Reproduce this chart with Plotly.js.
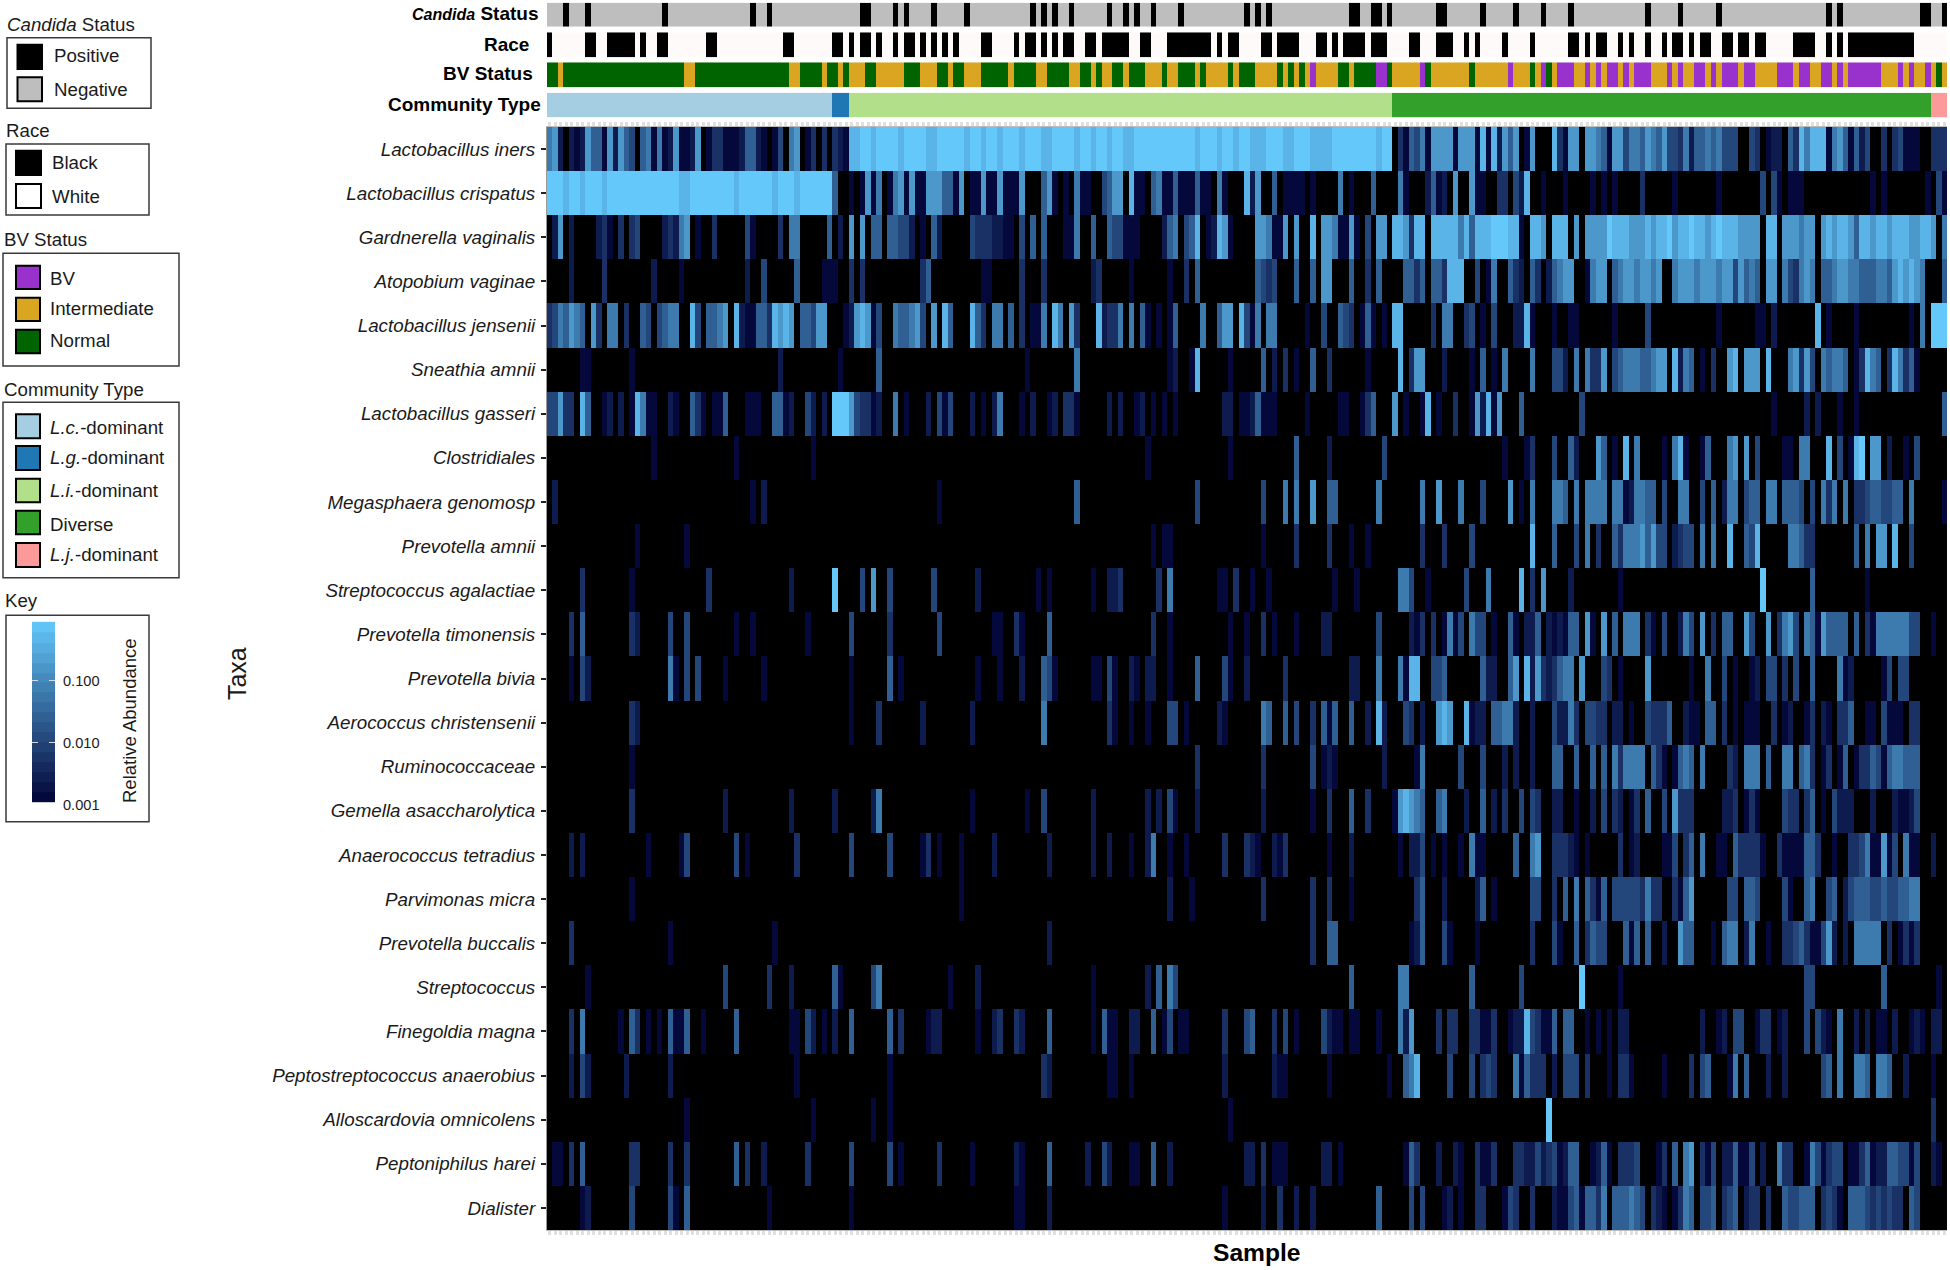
<!DOCTYPE html>
<html>
<head>
<meta charset="utf-8">
<script src="https://cdn.plot.ly/plotly-3.0.1.min.js"></script>
<style>html,body{margin:0;padding:0;background:#fff}</style>
</head>
<body>
<div id="chart" style="width:1950px;height:1270px"></div>
<script>
// ---------- DATA ----------
const sampleCount = 255;
const taxa = ["Lactobacillus iners","Lactobacillus crispatus","Gardnerella vaginalis","Atopobium vaginae","Lactobacillus jensenii","Sneathia amnii","Lactobacillus gasseri","Clostridiales","Megasphaera genomosp","Prevotella amnii","Streptococcus agalactiae","Prevotella timonensis","Prevotella bivia","Aerococcus christensenii","Ruminococcaceae","Gemella asaccharolytica","Anaerococcus tetradius","Parvimonas micra","Prevotella buccalis","Streptococcus","Finegoldia magna","Peptostreptococcus anaerobius","Alloscardovia omnicolens","Peptoniphilus harei","Dialister"];

// relative abundance read for each shade seen in the picture (index = shade number, 0 = absent)
const abundanceByShade = [0,0.0013,0.0025,0.0053,0.011,0.026,0.063,0.17,0.44,0.87];

// each entry: [first sample index, shade, shade, ...] for consecutive samples
const lIners = [[0,6,7,2,0,2,1,2,7,5,5,1,7,2,7,5,4,0,5,6,1,6,1,2,7,1,1,2,7,0,1,3,3,1,1,1,2,5,5,2,1,0,1,4,0,6,7,0,1,3,0,3,0,3,2,1],
 [55,8,8,9,9,8,9,9,9,9,8, 9,9,9,9,8,8,9,9,9,9, 9,8,9,9,8,9,9,8,9,9, 9,8,9,9,9,8,8,9,9,9, 9,8,9,9,8,9,9,8,9,9, 8,8,9,9,9,9,9,9,9,9, 9,9,9,8,9,9,9,8,9,9, 8,9,9,8,8,8,9,9,9,8, 8,9,9,9,8,8,8,8,9,9, 9,9,9,9,9,9,8,9,9],
 [154,0,3,1,5,4,6,1,7,7,7,7,1,7,7,7,1,8,1,8,2,7,5,7,0,1,7,0,0,0,8,3,1,7,7,0,7,7,6,5,1,7,7,4,6,6,5,7,6,5,7,4,4,3,6,2,5,5,6,5,6,4,4,4,0,0,4,3,0,1,2,2,0,5,3,8,6,8,8,8,1,6,7,5,1,5,2,4,0,0,3,0,3,4,1,1,1,0,0,3,3,3]];
const lCrispatus = [[0,9,9,9,8,9,9,8,9,9,9,8,9,9,9,9,9,9,9,9,9,9,9,9,9,8,8,9,9,9,9,9,9,9,9,8,9,9,9,9,9,9,8,9,9,9,8,9,9,9,9,9,9],
 [52,5,0,0,1,0,1,7,1,6,0,1,6,7,1,7,1,1,7,7,7,5,5,1,7,0,1,1,7,1,1,7,1,1,1],
 [86,7,0,0,0,5,7,1,0,1,0,6,1,1,0,0,4,5,7,7,0,8,1,1,0,5,6,1,1,5,1,1,1,5,1,1,0,6,1,0,0,0,8,2,7,0,0,5,0,1,1,1,1,0,1,0,0,0,0,6,0,1,0,0,0,5,0,0,0,0,6,1,0,0,0,2,5,1,2,0,7,0,0,7,1,1],
 [171,0,0,3,3,0,4,2,8],[181,1],[185,1],[190,1],[192,1],[194,1],[199,3],[205,1],[213,1],[221,4],[223,4,1],[226,1,1,1],[241,1],[243,1],[251,1],[253,4,1]];
const gVaginalis = [[0,0,2,7,0,2,0,0,0,0,2,3,1,0,3,0,3,4,0,0,0,0,2,3,2,6,7,0,1,0,0,3,0,0,0,0,0,4,1,0,0,0,0,3,0,6,6,0,0,0,0,0,5,0,2,0,7,0,7,0,5,5,0,5,5,4,4,2,0,1,0,5,2,0,0,0,0,0,4,3,3,3,2,2,1,1,0],
 [86,4,0,5,0,5,0,0,0,1,1,6,0,0,5,0,0,5,4,4,1,1,1,0,0,0,0,2,5,6,0,4,5,8,0,1,2,8,7,1,0,0,0,0,7,7,6,1,1,7,0,7,0,0,8,0,7,7,6,1,1,7,1,0,4,0,7,7,0,8,8,7,3,8,8,0,8,8,8,8,8,6,8],
 [168,5,8,8,8,9,9,9,8,8,1,0,8,8,7,0,8,8,8,0,7,0,7,7,7,7,9,8,8,8,7,7,7,8,7,8,8,9,7,8,8,9,8,8,7,8,9,8,8,8,7,7,7,7,0,8,8,0,7,7,7,6,7,7,0,7,8,7,8,8,7,5,8,8,7,8,8,7,8,8,8,7,7,8,8,7,0,6]];
const aVaginae = [[4,2],[10,3],[19,2],[24,1],[36,2],[39,4],[45,5],[50,1,1,1],[55,3],[57,3],[68,3,5],[79,1,1],[86,3],[90,3],[99,2,3],[106,1],[113,1],[116,3],[118,5],[129,5,4,3,4],[136,5],[139,5],[141,7,7],[146,5],[149,3],[151,5],[156,5,5,3,5],[161,5,5,3],[164,8,8,8],[169,4],[171,1,6],[175,5,3,2],[179,5,3],[182,2,5,6,7,7],[189,1,6,7,7],[194,5,6,7,7,6,7,7,6,7],[205,6,7,7,7,6,7,7,7,6,7,7,4,7,5,6,5],[222,7,7],[225,6,4,3,6,7,6],[232,5,5,6,7,7],[237,6,6,5,5,5,6,6,5],[245,7,8,7,8,7,6],[254,5]];
const lJensenii = [[0,3,4,6,5,7,6,5,0,7,3,0,6,6,0,3,0,0,5,4,0,4,5,6,6,0,0,8,4,0,5,5,6,7,0,8,2,1,1,5,5,3,8,7,8,7,0,5,5,4,7,7,0,0,0,1,2,7,8,7,1,4,0,0,6,5,5,6,7,4,0,7,0,8,5,0,0,0,8,5,3,0,6,6,0,5],
 [86,3],[88,1,1,6],[92,8,6],[95,7,3],[100,8,2,3,3,6],[106,6],[108,5,1],[111,1],[113,1,5],[119,6],[122,5,7,7],[126,8,4,1,6],[131,6,6],[138,1],[141,4],[144,5,4,3],[148,1,5,1],[152,1],[154,8,8],[161,3],[163,6,6],[167,3,4],[170,1],[172,4],[176,2,2],[178,8,1],[183,1],[186,1,1],[194,1],[200,4],[213,1],[220,1,1],[223,2],[231,8],[233,1],[238,1],[248,1],[250,6],[252,9,9,9]];
const sAmnii = [[6,1,1],[15,1],[42,2],[53,1],[60,5],[87,1],[96,6],[113,1,2],[117,1,8],[124,1],[130,5],[132,2],[134,3],[136,1],[139,5],[142,3],[149,1],[155,8],[157,3,7,7],[163,2],[168,1],[170,5],[172,1],[174,6],[179,6],[183,4,4,2],[187,6],[189,6,3,3,7],[194,4,5,6,6,6,5,5,6,7,7],[205,8,2,6,5],[210,1],[212,3],[215,7,8],[218,7,7,7],[222,8],[226,6,7,3,7,4],[232,6,5,6,6,5],[238,1,3,8,6,5],[244,3,8,6,3,5,1]];
const lGasseri = [[0,4,4,7,3,3],[6,8,5],[10,1,2],[13,2],[15,1,8,6,1,1],[22,2,1],[26,5,3,1],[30,1,1,5],[36,1,1,1],[41,5,5,1,2],[47,4,2],[50,2],[52,9,9,9,7,4,3,3,1,2],[63,6],[65,1],[69,2],[71,4,1,4],[77,2],[79,1],[81,2,6],[86,1],[88,2],[91,1,2],[94,3,3,1],[102,2],[104,2],[107,1,2],[110,1],[112,1],[114,1],[123,2,2],[126,1,1,2,5,1,1,1],[138,1],[144,1,1],[148,1,3,5],[154,7],[156,1],[159,1,8],[162,1],[165,3],[168,1,7,2,8,1,7],[177,5],[188,4],[223,1],[229,2],[231,2],[235,1],[238,1],[254,5]];
const clostridiales = [[19,1],[34,1],[48,1],[109,1],[124,1],[136,5],[142,2],[152,4],[174,1],[178,1,3],[183,4],[186,5,2],[191,7,5],[194,1],[196,8],[198,6],[203,1],[205,6,8,1],[210,1,5],[215,6,7],[218,7],[220,4],[225,1,1],[228,6,6],[233,8],[235,4],[237,1,8,9],[241,7,7],[244,2],[247,1],[249,4]];
const megasphaera = [[1,2],[37,1],[39,2],[71,1],[96,5],[118,4],[130,4],[134,6],[136,6],[139,7],[142,5,5],[151,6],[159,6],[162,7],[166,6],[170,4],[175,7],[177,1],[179,6],[183,6,6,5],[187,6],[189,6,6,6,6],[194,6,6,1,2,6,6,5,5],[203,4],[206,6,6],[210,4],[212,5],[214,2,6,6],[218,4,5,5],[222,6,6],[225,5,5,5,4],[230,4],[232,6,3,6],[236,6],[238,3,3,4,5,5,4,4,5,5],[248,6],[254,1]];
const pAmnii = [[16,1],[25,1],[110,1],[112,1,1],[130,1],[136,3],[142,3],[146,1],[149,1],[159,3],[163,3],[168,4],[179,8],[183,5],[187,4],[189,6],[191,3],[194,5,3,6,6,6,7,5,7,4,4],[205,2,3,4,4],[210,6],[212,6],[215,8],[218,5,4,8],[226,6,6,5,3,3],[238,5],[240,6],[242,7,7],[245,8],[248,4]];
const sAgalactiae = [[6,3],[15,1],[29,3],[44,2],[52,9],[57,4],[59,7],[62,4],[70,4],[78,2],[89,1],[91,1],[99,1],[102,2,2,3],[111,3],[113,6],[122,1,1],[125,3],[128,1],[131,1],[143,1],[147,1],[155,6,6,4],[160,1],[167,4],[171,6],[177,8],[179,3],[181,7],[186,2],[195,1],[221,9],[230,5],[240,1]];
const pTimonensis = [[4,3],[6,5],[15,3,2],[22,4],[25,4],[34,1],[37,1],[47,1],[55,4],[62,3],[71,4],[81,1,1],[85,3,1],[91,5],[110,3],[113,1],[124,1],[127,1],[130,3],[132,1],[136,1],[141,2,2],[151,4],[157,2,1,3],[161,3],[163,1,6,1,4],[168,6,4,4],[172,1],[175,5,1],[178,2,2,5],[182,2,1,2,1,5,5],[189,7,1],[192,7],[194,5],[196,6,6,6],[200,3,1],[203,4],[206,2,6,4],[210,7],[212,3],[214,5,5],[218,7,4],[222,7],[224,3,6,7,4],[229,6,5,1,7,5,5,5,5],[238,5],[240,3,1,6,6,6,6,6,6],[248,4,4],[252,1]];
const pBivia = [[4,1],[6,4,2],[22,6,1],[25,4],[27,4],[32,1],[39,1],[55,1],[62,5],[64,1],[78,1],[82,1],[86,2],[90,5,4,1],[99,1,1],[102,4,1],[106,2,1],[109,2,2],[113,1],[118,5],[123,4,1],[127,2],[134,3],[146,2,2],[151,6],[155,6,1,8,8],[161,4,4,5],[170,5,2,2],[175,5,7],[178,8,2,7,3,2,3,5,6,6],[188,7],[192,4,3],[195,1],[200,7],[208,1],[211,6],[214,4],[216,1],[219,1,2],[222,4,4],[225,3],[227,4],[230,5],[235,6,1,2],[243,1,4],[246,4,4]];
const aChristensenii = [[15,3,2],[55,1],[60,3],[68,2],[77,2],[90,6],[102,3,1],[106,1],[109,1],[113,4,4],[116,1],[122,2,1],[130,6,5],[134,5],[136,4],[139,3],[141,5,1,5],[146,5],[149,2],[151,8,2],[156,4,3],[159,2],[162,7,8,7],[167,8,1,2,2],[172,5,5,6,6,2],[179,2],[183,4,2,2,6,3],[189,4,4,3,3],[194,2,2],[197,1],[200,4,3,3,3,5],[207,2,1,1],[211,5,5],[214,3],[216,1],[218,1,1,1],[223,3],[225,1,2],[229,1,3],[232,2,1],[235,3,3,5],[240,1,1],[243,4,1,1,1],[248,3,3]];
const ruminococcaceae = [[15,1],[118,3],[130,3],[139,4],[141,1,2,1],[152,2],[158,1,6],[166,4],[170,4],[174,2],[176,2],[179,2],[183,5,5],[187,5],[190,5],[192,5],[194,6,3,6,6,6,6],[201,5,3,1],[205,1,5,6,5],[210,6],[215,3,2],[218,6,6,6],[222,5],[225,6,6],[228,5,6,3],[232,1,3],[235,1,5],[238,1,3,3,5,4,1,5,6,6,5,5,5]];
const gAsaccharolytica = [[15,3],[32,2],[44,2],[52,2],[59,2,6],[77,1],[87,1],[90,4],[99,2],[109,2],[111,2],[113,4,1],[118,2],[130,2],[139,1],[142,3],[146,5],[149,3],[154,1,7,8,7,6,5],[162,5,6],[167,2],[170,5],[172,2],[174,3],[177,4],[179,4,3],[183,2,2],[187,1],[190,2],[192,4],[194,3,2],[197,1,3],[200,5],[203,4],[205,7,3,3,3],[214,2,2,3],[218,1,3,1],[225,4,3,3],[229,3,5],[232,1],[234,4,2,2,2],[241,2],[245,2,1,1,2,4]];
const aTetradius = [[4,2],[6,2],[18,1],[24,1,4],[34,4],[36,1],[45,3],[55,4],[62,4],[68,1,3],[71,1],[75,1],[81,2],[91,2],[99,2],[102,2],[106,1],[109,2,6],[113,1],[116,1],[123,3],[127,3,2,1],[132,2,1,3],[142,1],[146,2],[155,1],[157,2,2,4],[161,1],[163,1],[166,1],[168,6,1,1],[176,5],[179,6,7],[183,3,3,3,2,1],[189,1],[195,3],[197,1,2],[203,1,1,4],[207,3,5],[210,6],[213,1,1],[216,5,3,3,3,3,1],[224,3,1,1,1,1,5,5,3],[234,1],[237,3,3,4,6,1,1,7,1,4],[247,6,1,1],[252,2]];
const pMicra = [[15,1],[75,1],[113,2],[117,1],[130,3],[139,3],[142,3],[146,1],[158,3,5],[163,2],[169,2,5],[172,1],[179,4,4],[183,3],[185,5],[187,6],[189,5,3,1,5],[194,4,4,4,4,4,3,6,3,3],[205,3,1,5,7],[215,4,4],[218,5,5,4],[225,4,1],[229,5,6],[233,4,5],[236,2,4,5,5,5,4,4,5,4,4,5,5,6,6]];
const pBuccalis = [[4,3],[22,1],[41,1],[91,2],[139,3],[142,5,5],[157,1,2,5],[163,4,1],[169,1],[179,3],[183,4,1],[187,5],[189,3,5,4,4],[196,5,1,5],[200,5],[203,2],[206,7,5,5],[212,1],[214,5,6,6],[218,2,6],[222,1],[225,3,3,4,5,3,1,1,4,7,2],[236,2],[238,6,6,6,6,6],[244,3],[246,1],[247,3,1,3]];
const streptococcus = [[7,1],[32,4],[40,3],[44,2],[52,5,1],[59,4,6],[73,1],[78,2],[99,1],[109,2],[111,5],[113,6,4],[146,5],[155,6,6],[168,5],[177,4],[188,9],[195,1],[229,4,4],[243,5],[253,1]];
const fMagna = [[4,3],[6,6],[13,1],[15,5,3],[18,1],[20,1],[22,5,1,1,5],[28,1],[34,5],[44,1,1],[47,4,2],[50,1],[52,2],[55,5],[62,5],[64,3],[69,1,2,2],[78,1],[81,2,3],[85,3,2],[91,5],[99,1],[101,5,1,1],[106,2,2],[110,5],[112,1,4],[115,1,1],[123,3],[127,4,5],[132,3],[134,4],[136,1],[141,4,2,1,1],[146,1,1],[151,1],[155,6,2,7],[162,3],[164,3,3],[168,3,3,1,1,3],[175,1,2,2,8,4,3,1,1,5],[185,5,5],[189,1],[191,1],[193,1],[195,2,2],[210,2],[213,1,2],[216,4,4],[220,1,3,3],[224,1,2],[229,4],[231,4,2,1],[235,6],[238,2],[240,2],[242,1,1],[245,2],[248,1,2,1],[252,2,2]];
const pAnaerobius = [[4,2],[6,4,2],[14,2],[22,2],[45,1],[62,1],[90,3,2],[102,1,1],[106,1],[123,2],[132,2,1,1],[142,1],[153,1],[156,5,6,8],[164,4],[168,4],[170,3,4,3],[176,6,1,5,3,3,3],[183,2],[185,4,4,4],[189,3],[193,1],[195,3,3,1],[203,1],[208,3],[210,4,5],[215,1,6],[218,5],[222,2],[225,2],[232,4,5],[235,6],[238,6,6,5],[242,6,6,5],[247,2],[252,1]];
const aOmnicolens = [[25,1],[48,1],[59,1],[62,1],[124,1],[182,9],[252,3]];
const pHarei = [[1,1,1],[4,3],[6,5],[15,3,3],[22,3],[25,3],[34,5],[36,3],[39,2],[47,3],[55,4],[62,4],[64,1],[71,3],[77,1],[85,2,1],[91,5],[98,2],[101,4,2],[106,1,1],[110,5],[113,2],[127,2,2],[130,3],[132,1,1,1],[141,2,2],[144,1],[156,1,5,3],[162,2],[165,2,1],[169,3,1,1,3],[176,3,3,2,2,4,2,3,4,1,2,5,5],[190,1,2,5,1],[195,3,3,3,4],[202,1,3],[205,5],[207,6,7],[210,3,1,4],[214,2,2,5,1,1,4],[221,2],[224,6,3,3],[229,1,6,4,1,3,4,4],[237,1,1,3,5,1,2,2,5,5,4,4,1,4],[252,2,1]];
const dialister = [[6,1,2],[15,4],[22,4,1],[25,5],[40,1],[55,1],[85,1,1],[91,2],[123,1],[130,2],[133,3],[136,2],[139,2],[151,5],[157,4],[159,4],[163,1,2],[166,1],[169,3,3],[174,1,4,3],[179,3],[183,2,1,1,4,5,1,5,5,3,6],[194,5,5,5,6,5,4],[201,3,2,1],[205,1,3,6,5],[210,4,4,5],[214,3,4,5],[218,2,3,3],[222,3],[225,5,4,4,5,5,5],[232,3,4,3,1],[237,5,5,5,4,3,4,3,4,3,3],[248,5,4]];
const taxaShades = [lIners,lCrispatus,gVaginalis,aVaginae,lJensenii,sAmnii,lGasseri,clostridiales,megasphaera,pAmnii,sAgalactiae,pTimonensis,pBivia,aChristensenii,ruminococcaceae,gAsaccharolytica,aTetradius,pMicra,pBuccalis,streptococcus,fMagna,pAnaerobius,aOmnicolens,pHarei,dialister];

// annotation strips: sample index lists / inclusive ranges
const candidaPositive = [3,7,21,37,40,57,58,63,65,70,76,88,90,92,95,102,105,107,110,115,127,129,131,146,147,150,151,153,162,163,170,176,181,186,200,206,213,233,235,250,251,254];
const raceBlackRanges = [[0,0],[7,8],[11,15],[17,17],[20,21],[29,30],[43,44],[52,53],[55,55],[57,58],[60,60],[63,63],[65,66],[68,68],[70,70],[72,72],[74,74],[79,80],[85,85],[87,88],[90,90],[92,92],[94,95],[98,99],[101,105],[108,109],[113,120],[122,122],[124,125],[130,131],[133,136],[140,141],[143,143],[145,148],[150,152],[157,158],[162,164],[167,167],[169,169],[174,174],[179,179],[186,187],[189,189],[191,192],[195,195],[197,197],[200,200],[203,203],[205,206],[208,208],[210,211],[214,215],[217,218],[220,221],[227,230],[233,233],[235,235],[237,248]];
const bvIntermediateRanges = [[2,2],[25,26],[44,45],[50,50],[53,53],[55,57],[60,64],[68,70],[73,73],[76,78],[84,84],[89,90],[95,96],[99,99],[101,102],[105,105],[109,111],[113,114],[118,118],[120,123],[125,125],[129,132],[134,134],[136,136],[138,138],[140,143],[146,146],[154,158],[161,167],[169,174],[176,178],[180,180],[183,183],[187,188],[190,190],[192,192],[195,195],[197,197],[201,203],[205,205],[207,208],[211,211],[213,213],[217,217],[220,223],[227,227],[230,231],[234,234],[236,236],[243,245],[247,247],[249,250],[252,252],[254,254]];
const bvPositiveRanges = [[139,139],[151,152],[159,159],[175,175],[181,181],[184,186],[189,189],[191,191],[193,194],[196,196],[198,200],[204,204],[206,206],[209,210],[212,212],[214,216],[218,219],[224,226],[228,229],[232,233],[235,235],[237,242],[246,246],[248,248],[251,251]];
const communityRanges = [[0,51],[52,54],[55,153],[154,251],[252,254]];

const candidaColors = ["#BEBEBE","#000000"];
const raceColors = ["#FFFAFA","#000000"];
const bvColors = ["#006400","#DAA520","#9932CC"];
const communityColors = ["#A6CEE3","#1F78B4","#B2DF8A","#33A02C","#FB9A99"];

const keyTickValues = [-3,-2,-1];
const keyTickLabels = ["0.001","0.010","0.100"];
const keySteps = [-2.87,-2.71,-2.55,-2.39,-2.23,-2.07,-1.91,-1.75,-1.59,-1.43,-1.27,-1.11,-0.95,-0.79,-0.63,-0.47,-0.31,-0.13];

const legends = [
 {title:"<i>Candida</i> Status", titleX:7, titleY:24.3, box:[7,37.7,151,108.3], swX:[17.5,42], textX:54, items:[
  {label:"Positive",color:"#000000",sw:[44.7,69],y:55.7},{label:"Negative",color:"#BEBEBE",sw:[77.3,101.3],y:90}]},
 {title:"Race", titleX:6, titleY:131, box:[6,144,149,215], swX:[16,41], textX:52.5, items:[
  {label:"Black",color:"#000000",sw:[150.7,175],y:162.3},{label:"White",color:"#FFFFFF",sw:[184,208],y:196.7}]},
 {title:"BV Status", titleX:4, titleY:239.3, box:[3,253.3,179,366], swX:[16,40], textX:50, items:[
  {label:"BV",color:"#9932CC",sw:[265.7,289],y:278.3},{label:"Intermediate",color:"#DAA520",sw:[297.7,321],y:308.3},{label:"Normal",color:"#006400",sw:[329.7,353.3],y:340.3}]},
 {title:"Community Type", titleX:4, titleY:389.3, box:[3,402.3,179,577.7], swX:[16,40], textX:50, items:[
  {label:"<i>L.c.</i>-dominant",color:"#A6CEE3",sw:[414.3,438.3],y:427.7},{label:"<i>L.g.</i>-dominant",color:"#1F78B4",sw:[446,470],y:457.3},{label:"<i>L.i.</i>-dominant",color:"#B2DF8A",sw:[478.7,502.3],y:490.7},{label:"Diverse",color:"#33A02C",sw:[510.7,534.3],y:524},{label:"<i>L.j.</i>-dominant",color:"#FB9A99",sw:[543,567],y:554}]}
];

// ---------- BUILD ----------
const W = 1950, H = 1270;
const FONT = "Liberation Sans, Arial, sans-serif";
const TXT = "#1a1a1a";
const px = v => v / W;
const py = v => 1 - v / H;
const domY = (top, bottom) => [py(bottom), py(top)];

const sampleIdx = Array.from({length: sampleCount}, (_, i) => i);
const ABSENT = -3.1;
const heatScale = [[0,"#000000"],[0.0315,"#000000"],[0.0323,"#000033"],[1,"#66CCFF"]];

function expandRow(entries) {
  const row = new Array(sampleCount).fill(0);
  entries.forEach(e => { for (let k = 1; k < e.length; k++) row[e[0] + k - 1] = e[k]; });
  return row.map(s => abundanceByShade[s] > 0 ? Math.log10(abundanceByShade[s]) : ABSENT);
}
function fromRanges(base, groups) {
  const row = new Array(sampleCount).fill(base);
  groups.forEach(([value, ranges]) => ranges.forEach(([a, b]) => { for (let i = a; i <= b; i++) row[i] = value; }));
  return row;
}
function stepScale(colors) {
  const n = colors.length, out = [];
  colors.forEach((c, i) => { out.push([i / n, c]); out.push([(i + 1) / n, c]); });
  return out;
}
function strip(values, colors, yaxis, name) {
  return {type:"heatmap", x:sampleIdx, y:[name], z:[values], xaxis:"x", yaxis, colorscale:stepScale(colors),
          zmin:-0.5, zmax:colors.length - 0.5, showscale:false, hoverinfo:"skip", xgap:0, ygap:0};
}

const candidaRow = fromRanges(0, [[1, candidaPositive.map(i => [i, i])]]);
const raceRow = fromRanges(0, [[1, raceBlackRanges]]);
const bvRow = fromRanges(0, [[1, bvIntermediateRanges],[2, bvPositiveRanges]]);
const communityRow = fromRanges(0, communityRanges.map((r, i) => [i, [r]]));

const traces = [
  {type:"heatmap", x:sampleIdx, y:taxa.map(t => "<i>" + t + "</i>"), z:taxaShades.map(expandRow),
   colorscale:heatScale, zmin:ABSENT, zmax:0, showscale:false, xaxis:"x", yaxis:"y"},
  strip(candidaRow, candidaColors, "y2", "Candida Status"),
  strip(raceRow, raceColors, "y3", "Race"),
  strip(bvRow, bvColors, "y4", "BV Status"),
  strip(communityRow, communityColors, "y5", "Community Type"),
  {type:"heatmap", x:[0], y:keySteps, z:keySteps.map(v => [v]), colorscale:heatScale, zmin:ABSENT, zmax:0,
   showscale:false, xaxis:"x2", yaxis:"y6", hoverinfo:"skip"}
];

const shapes = [], annotations = [];
const LEFT_PAD = 2.5; // annotations carry a small built-in inset
function text(t, x, y, size, opts) {
  const o = opts || {};
  const anchor = o.xanchor || "left";
  const dx = anchor === "left" ? -LEFT_PAD : anchor === "right" ? LEFT_PAD : 0;
  annotations.push(Object.assign({text:t, xref:"paper", yref:"paper", x:px(x + dx), y:py(y), xanchor:anchor, yanchor:"middle",
    showarrow:false, font:{family:FONT, size, color:TXT}}, o));
}
legends.forEach(g => {
  text(g.title, g.titleX, g.titleY, 18.7);
  shapes.push({type:"rect", xref:"paper", yref:"paper", x0:px(g.box[0]), x1:px(g.box[2]), y0:py(g.box[1]), y1:py(g.box[3]),
    line:{color:"#3a3a3a", width:1.5}, fillcolor:"rgba(0,0,0,0)"});
  g.items.forEach(it => {
    shapes.push({type:"rect", xref:"paper", yref:"paper", x0:px(g.swX[0]), x1:px(g.swX[1]), y0:py(it.sw[0]), y1:py(it.sw[1]),
      line:{color:"#000000", width:2}, fillcolor:it.color});
    text(it.label, g.textX, it.y, 18.7);
  });
});
// key
text("Key", 5, 600, 18.7);
shapes.push({type:"rect", xref:"paper", yref:"paper", x0:px(6), x1:px(149), y0:py(615.3), y1:py(821.7), line:{color:"#3a3a3a", width:1.5}, fillcolor:"rgba(0,0,0,0)"});
text("Relative Abundance", 129, 721, 18.5, {textangle:-90, xanchor:"center"});
// strip labels
const stripLabels = [['<b><i><span style="font-size:16px">Candida</span></i> Status</b>',537,14],["<b>Race</b>",528,44.3],["<b>BV Status</b>",532,74],["<b>Community Type</b>",540,104.3]];
stripLabels.forEach(([t,x,y]) => text(t, x, y, 19, {xanchor:"right", font:{family:FONT,size:19,color:"#000"}}));
// axis names
text("<b>Sample</b>", 1256, 1252, 24.6, {xanchor:"center", font:{family:FONT,size:24.6,color:"#000"}});
text("Taxa", 237, 674, 24.9, {xanchor:"center", textangle:-90});

const hiddenY = (top, bottom) => ({domain:domY(top,bottom), anchor:"x", visible:false, type:"category"});

const layout = {
  width:W, height:H, margin:{l:0,r:0,t:0,b:0}, paper_bgcolor:"#fff", plot_bgcolor:"#fff", showlegend:false,
  font:{family:FONT, color:TXT},
  xaxis:{domain:[px(547),px(1947)], range:[-0.5,254.5], anchor:"y", showgrid:false, zeroline:false, showticklabels:false,
    tickmode:"linear", tick0:0, dtick:1, ticks:"outside", ticklen:4, tickwidth:3, tickcolor:"#E0E0E0", mirror:"ticks",
    showline:true, linecolor:"#BDBDBD", linewidth:1},
  yaxis:{domain:domY(127,1230), anchor:"x", type:"category", autorange:false, range:[24.5,-0.5], showgrid:false, zeroline:false,
    ticks:"outside", ticklen:5, tickwidth:1.5, tickcolor:"#222", showline:true, linecolor:"#9A9A9A", linewidth:1,
    tickfont:{family:FONT, size:18.8, color:TXT}, ticklabelstandoff:2},
  yaxis2:hiddenY(2.7,26.7),
  yaxis3:hiddenY(32.3,57.3),
  yaxis4:hiddenY(62.3,87.3),
  yaxis5:hiddenY(92.7,117.3),
  xaxis2:{domain:[px(32),px(55)], anchor:"y6", visible:false, range:[-0.5,0.5]},
  yaxis6:{domain:domY(621.7,805), anchor:"x2", range:[-3,-0.048], side:"right", showgrid:false, zeroline:false, showline:false,
    tickmode:"array", tickvals:keyTickValues, ticktext:keyTickLabels, ticks:"inside", ticklen:6, tickwidth:1, tickcolor:"#d8d8d8", mirror:"ticks",
    tickfont:{family:FONT, size:14.6, color:TXT}, ticklabelstandoff:7},
  shapes, annotations
};

Plotly.newPlot("chart", traces, layout, {displayModeBar:false, responsive:false});
</script>
</body>
</html>
